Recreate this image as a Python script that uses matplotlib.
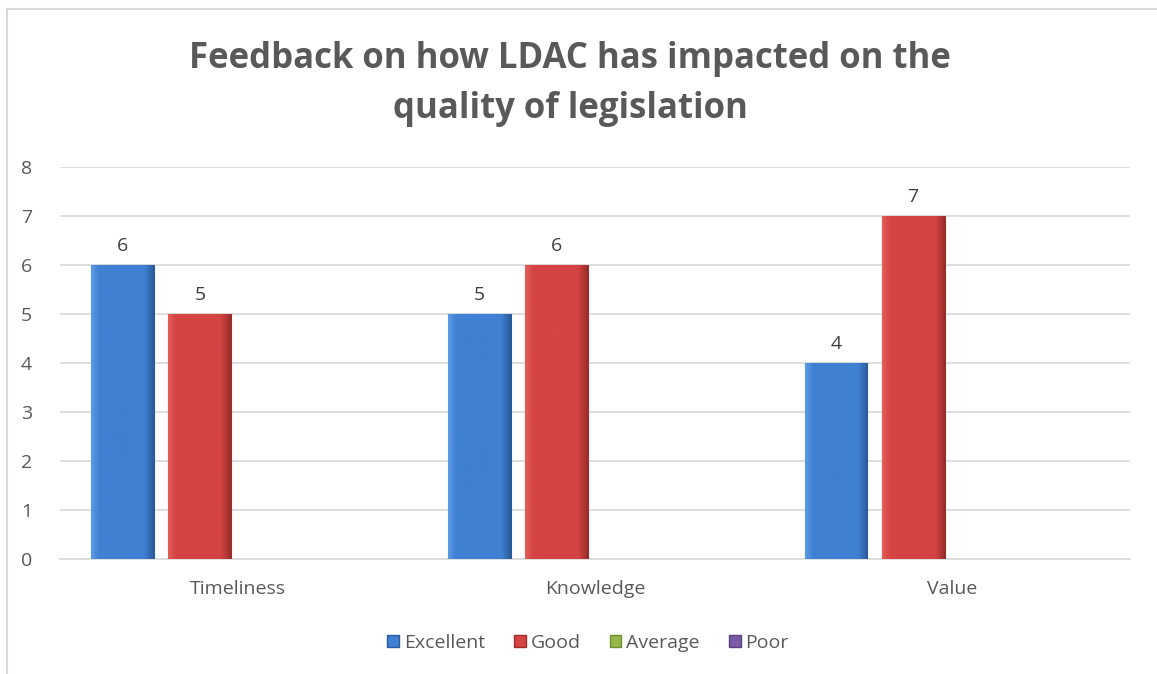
import matplotlib
matplotlib.use("Agg")
import matplotlib.pyplot as plt
import numpy as np
from matplotlib.patches import Patch
from matplotlib.lines import Line2D
from matplotlib.colors import LinearSegmentedColormap

plt.rcParams['font.family'] = ['Open Sans', 'DejaVu Sans']

categories = ["Timeliness", "Knowledge", "Value"]
series_names = ["Excellent", "Good", "Average", "Poor"]
excellent = [6, 5, 4]
good = [5, 6, 7]
average = [0, 0, 0]
poor = [0, 0, 0]
series_values = [excellent, good, average, poor]
yticks = [0, 1, 2, 3, 4, 5, 6, 7, 8]

colors = ["#3F80D2", "#D44442", "#93B84A", "#7A5AA6"]
dark = ["#2A5C9C", "#9A2D2A", "#6E8F33", "#5A3F80"]
light = ["#5C9BE4", "#E35E5A", "#B0D56A", "#9A7CC4"]

fig = plt.figure(figsize=(11.57, 6.74), dpi=100)
ax = fig.add_axes([60/1157, 1-559/674, (1130-60)/1157, (559-167)/674])

x = np.arange(len(categories))
step = 0.216
width = 0.176
text_color = "#595959"

for i, (name, vals) in enumerate(zip(series_names, series_values)):
    offs = (i - 1.5) * step
    lw = [0.8 if v > 0 else 0 for v in vals]
    bars = ax.bar(x + offs, vals, width, color=colors[i], edgecolor=dark[i],
                  linewidth=lw, zorder=3, label=name)
    for b, v in zip(bars, vals):
        if v <= 0:
            continue
        x0, y0 = b.get_x(), b.get_y()
        w, h = b.get_width(), b.get_height()
        cmap = LinearSegmentedColormap.from_list(
            "g", [(0, light[i]), (0.12, colors[i]), (0.85, colors[i]), (1, dark[i])])
        grad = np.linspace(0, 1, 64).reshape(1, -1)
        im = ax.imshow(grad, extent=[x0, x0 + w, y0, y0 + h], aspect='auto',
                       cmap=cmap, vmin=0, vmax=1, zorder=3.5)
        im.set_clip_path(b)
        ax.text(b.get_x() + w / 2, v + 0.2, f"{v}", ha='center', va='bottom',
                fontsize=14, color="#404040", zorder=5)

ax.set_xlim(-0.5, 2.5)
ax.set_ylim(0, 8)
ax.set_yticks(yticks)
ax.set_xticks(x)
ax.set_xticklabels(categories)
ax.yaxis.grid(True, color="#D9D9D9", linewidth=1.2, zorder=0)
ax.set_axisbelow(True)
for s in ["top", "right", "left"]:
    ax.spines[s].set_visible(False)
ax.spines["bottom"].set_color("#D9D9D9")
ax.spines["bottom"].set_linewidth(1.2)
ax.tick_params(axis='both', length=0, labelsize=14, colors=text_color)
ax.tick_params(axis='y', pad=20)
ax.tick_params(axis='x', pad=15)

fig.text(0.493, 1 - 84/674, "Feedback on how LDAC has impacted on the\nquality of legislation",
         ha='center', va='center', fontsize=25, fontweight='bold', color=text_color,
         linespacing=1.5)

handles = [Patch(facecolor=colors[i], edgecolor=dark[i], label=series_names[i]) for i in range(4)]
leg = fig.legend(handles=handles, loc='center', bbox_to_anchor=(588/1157, 1 - 643/674),
                 ncol=4, frameon=False, fontsize=14, handlelength=0.6, handleheight=0.6,
                 handletextpad=0.25, columnspacing=1.5)
for t in leg.get_texts():
    t.set_color(text_color)

# chart border lines (top and left visible)
fig.add_artist(Line2D([7/1157, 1], [1 - 9/674, 1 - 9/674], color="#D9D9D9", linewidth=1.5,
                      transform=fig.transFigure))
fig.add_artist(Line2D([7/1157, 7/1157], [0, 1 - 9/674], color="#D9D9D9", linewidth=1.5,
                      transform=fig.transFigure))

fig.savefig("out.png", dpi=100)
